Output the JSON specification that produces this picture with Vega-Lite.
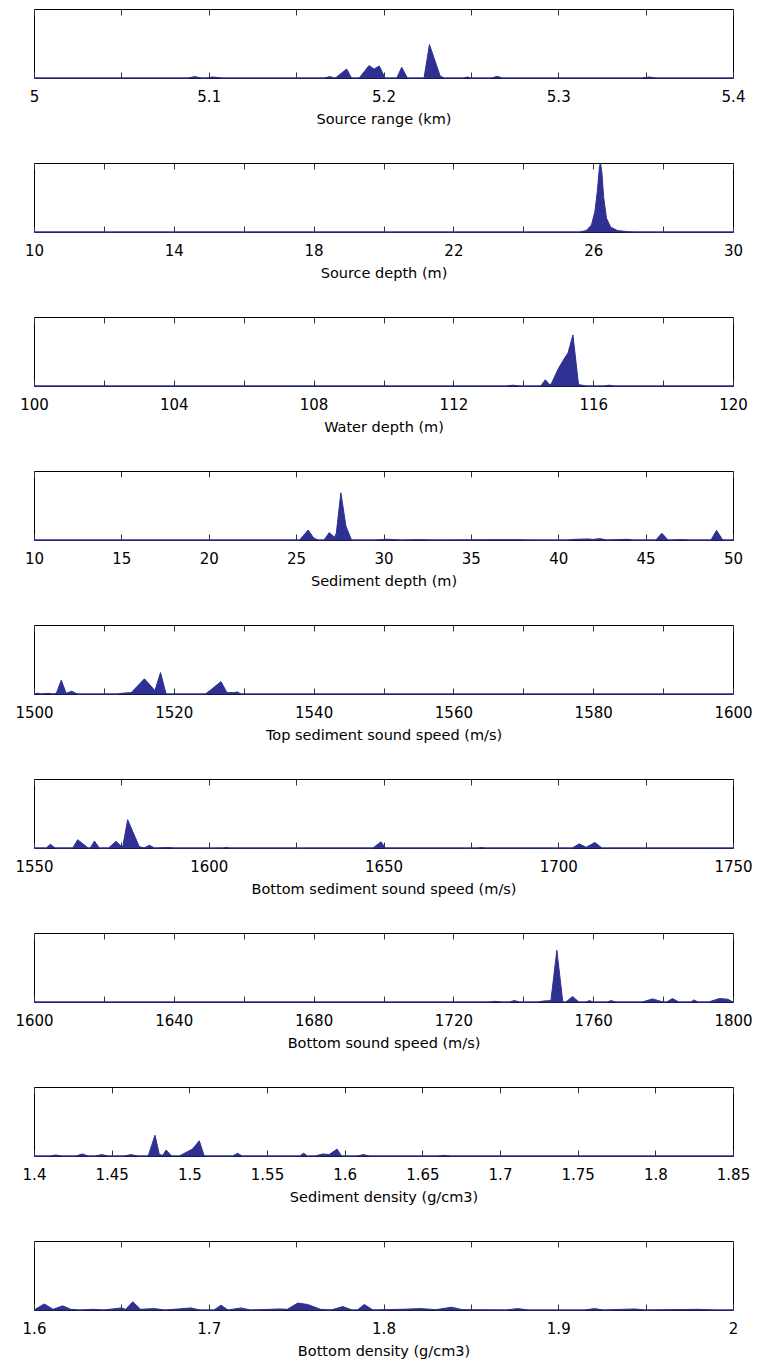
{
  "$schema": "https://vega.github.io/schema/vega-lite/v6.json",
  "padding": {"left": 14, "top": 8, "right": 4, "bottom": 4},
  "background": "white",
  "spacing": 85,
  "bounds": "flush",
  "config": {
    "view": {"stroke": "#000", "strokeWidth": 1},
    "axis": {"domain": false, "grid": false, "tickColor": "#333", "tickSize": -6, "tickWidth": 1,
      "labelFont": "DejaVu Sans", "labelFontSize": 15, "labelColor": "#000", "labelPadding": 17,
      "titleFont": "DejaVu Sans", "titleFontSize": 14.5, "titleFontWeight": "normal", "titleColor": "#000", "titlePadding": 8,
      "labelOverlap": false, "labelFlush": false},
    "area": {"color": "#2e3192", "stroke": "#2e3192", "strokeWidth": 1, "interpolate": "linear"}
  },
  "datasets": {
    "p1": [{"x":5,"y":0},{"x":5.088,"y":0},{"x":5.092,"y":0.02},{"x":5.096,"y":0},{"x":5.099,"y":0},{"x":5.102,"y":0.015},{"x":5.108,"y":0},{"x":5.166,"y":0},{"x":5.1693,"y":0.02},{"x":5.172,"y":0},{"x":5.173,"y":0.01},{"x":5.1789,"y":0.13},{"x":5.1817,"y":0},{"x":5.1861,"y":0},{"x":5.1917,"y":0.18},{"x":5.1946,"y":0.13},{"x":5.1976,"y":0.175},{"x":5.2009,"y":0},{"x":5.2076,"y":0},{"x":5.2104,"y":0.155},{"x":5.2137,"y":0},{"x":5.2232,"y":0},{"x":5.2263,"y":0.485},{"x":5.2324,"y":0.03},{"x":5.2347,"y":0},{"x":5.246,"y":0},{"x":5.248,"y":0.015},{"x":5.25,"y":0},{"x":5.262,"y":0},{"x":5.265,"y":0.025},{"x":5.268,"y":0},{"x":5.348,"y":0},{"x":5.352,"y":0.015},{"x":5.356,"y":0},{"x":5.4,"y":0}],
    "p2": [{"x":10,"y":0},{"x":25.6,"y":0},{"x":25.8,"y":0.02},{"x":25.95,"y":0.1},{"x":26.05,"y":0.3},{"x":26.12,"y":0.6},{"x":26.18,"y":0.95},{"x":26.21,"y":1.0},{"x":26.25,"y":0.85},{"x":26.3,"y":0.5},{"x":26.38,"y":0.2},{"x":26.5,"y":0.07},{"x":26.7,"y":0.02},{"x":27.0,"y":0.005},{"x":27.2,"y":0},{"x":30,"y":0}],
    "p3": [{"x":100,"y":0},{"x":113.5,"y":0},{"x":113.7,"y":0.012},{"x":113.9,"y":0},{"x":114.5,"y":0},{"x":114.63,"y":0.09},{"x":114.75,"y":0.02},{"x":114.8,"y":0.03},{"x":115.0,"y":0.25},{"x":115.2,"y":0.42},{"x":115.28,"y":0.48},{"x":115.42,"y":0.74},{"x":115.58,"y":0.02},{"x":115.7,"y":0.01},{"x":115.8,"y":0},{"x":116.3,"y":0},{"x":116.45,"y":0.012},{"x":116.6,"y":0},{"x":120,"y":0}],
    "p4": [{"x":10,"y":0},{"x":25.2,"y":0},{"x":25.69,"y":0.145},{"x":26.0,"y":0.03},{"x":26.26,"y":0},{"x":26.6,"y":0},{"x":26.89,"y":0.106},{"x":27.2,"y":0.04},{"x":27.3,"y":0.1},{"x":27.56,"y":0.685},{"x":27.85,"y":0.2},{"x":28.17,"y":0},{"x":29.5,"y":0},{"x":30.2,"y":0.012},{"x":31,"y":0},{"x":32,"y":0.005},{"x":33,"y":0},{"x":37.5,"y":0.005},{"x":38.5,"y":0},{"x":40.5,"y":0},{"x":41,"y":0.01},{"x":41.7,"y":0.015},{"x":42,"y":0.008},{"x":42.37,"y":0.02},{"x":42.8,"y":0},{"x":43.95,"y":0.01},{"x":44.3,"y":0},{"x":45.58,"y":0},{"x":45.93,"y":0.097},{"x":46.29,"y":0},{"x":47.1,"y":0.006},{"x":47.5,"y":0},{"x":48.74,"y":0},{"x":49.06,"y":0.14},{"x":49.41,"y":0},{"x":50,"y":0}],
    "p5": [{"x":1500,"y":0},{"x":1500.5,"y":0.012},{"x":1501,"y":0},{"x":1502,"y":0.01},{"x":1502.8,"y":0},{"x":1503.2,"y":0.01},{"x":1503.9,"y":0.2},{"x":1504.6,"y":0.01},{"x":1505.4,"y":0.04},{"x":1506.2,"y":0},{"x":1512,"y":0},{"x":1512.5,"y":0.01},{"x":1513.9,"y":0.02},{"x":1515.8,"y":0.22},{"x":1517.3,"y":0.05},{"x":1518.1,"y":0.31},{"x":1518.9,"y":0},{"x":1524.5,"y":0},{"x":1525.3,"y":0.06},{"x":1526.75,"y":0.18},{"x":1527.6,"y":0.02},{"x":1528.5,"y":0.02},{"x":1529.1,"y":0.03},{"x":1529.6,"y":0},{"x":1600,"y":0}],
    "p6": [{"x":1550,"y":0},{"x":1553.5,"y":0},{"x":1554.7,"y":0.055},{"x":1556,"y":0},{"x":1561.1,"y":0},{"x":1562.5,"y":0.12},{"x":1565.5,"y":0},{"x":1566.1,"y":0},{"x":1567.3,"y":0.1},{"x":1568.7,"y":0},{"x":1571.3,"y":0},{"x":1573.5,"y":0.097},{"x":1575.0,"y":0.02},{"x":1575.4,"y":0.02},{"x":1576.8,"y":0.41},{"x":1580.1,"y":0.02},{"x":1581.5,"y":0},{"x":1583,"y":0.04},{"x":1584.5,"y":0},{"x":1589,"y":0.008},{"x":1590,"y":0},{"x":1604,"y":0},{"x":1605,"y":0.01},{"x":1606,"y":0},{"x":1647,"y":0},{"x":1649.3,"y":0.09},{"x":1650.5,"y":0},{"x":1677,"y":0},{"x":1678,"y":0.01},{"x":1679,"y":0},{"x":1704,"y":0},{"x":1706,"y":0.06},{"x":1708,"y":0.01},{"x":1710.5,"y":0.08},{"x":1712.5,"y":0},{"x":1750,"y":0}],
    "p7": [{"x":1600,"y":0},{"x":1730,"y":0},{"x":1732,"y":0.01},{"x":1734,"y":0},{"x":1736,"y":0},{"x":1737.4,"y":0.02},{"x":1739,"y":0},{"x":1744,"y":0},{"x":1745.9,"y":0.015},{"x":1747.9,"y":0.02},{"x":1749.6,"y":0.75},{"x":1751.3,"y":0},{"x":1752.2,"y":0},{"x":1754.1,"y":0.08},{"x":1755.9,"y":0},{"x":1758,"y":0},{"x":1758.9,"y":0.02},{"x":1760,"y":0},{"x":1764,"y":0},{"x":1765.1,"y":0.02},{"x":1766.5,"y":0},{"x":1774,"y":0},{"x":1777,"y":0.045},{"x":1780,"y":0},{"x":1781,"y":0},{"x":1782.7,"y":0.05},{"x":1784.5,"y":0},{"x":1788,"y":0},{"x":1788.8,"y":0.03},{"x":1790,"y":0},{"x":1793,"y":0},{"x":1796.1,"y":0.05},{"x":1798.5,"y":0.04},{"x":1800,"y":0}],
    "p8": [{"x":1.4,"y":0},{"x":1.41,"y":0},{"x":1.414,"y":0.015},{"x":1.418,"y":0},{"x":1.427,"y":0},{"x":1.431,"y":0.03},{"x":1.435,"y":0},{"x":1.439,"y":0},{"x":1.4436,"y":0.02},{"x":1.448,"y":0},{"x":1.458,"y":0},{"x":1.4624,"y":0.02},{"x":1.467,"y":0},{"x":1.4735,"y":0},{"x":1.4779,"y":0.3},{"x":1.4807,"y":0.02},{"x":1.483,"y":0.01},{"x":1.485,"y":0.087},{"x":1.4886,"y":0},{"x":1.4935,"y":0},{"x":1.502,"y":0.1},{"x":1.5064,"y":0.22},{"x":1.5096,"y":0},{"x":1.528,"y":0},{"x":1.5311,"y":0.04},{"x":1.534,"y":0},{"x":1.571,"y":0},{"x":1.5736,"y":0.04},{"x":1.576,"y":0},{"x":1.581,"y":0},{"x":1.5859,"y":0.03},{"x":1.59,"y":0.02},{"x":1.5951,"y":0.1},{"x":1.598,"y":0},{"x":1.608,"y":0},{"x":1.612,"y":0.02},{"x":1.616,"y":0},{"x":1.66,"y":0},{"x":1.664,"y":0.01},{"x":1.668,"y":0},{"x":1.85,"y":0}],
    "p9": [{"x":1.6,"y":0},{"x":1.6059,"y":0.087},{"x":1.611,"y":0.01},{"x":1.6164,"y":0.06},{"x":1.621,"y":0.01},{"x":1.626,"y":0},{"x":1.634,"y":0.01},{"x":1.64,"y":0},{"x":1.6498,"y":0.03},{"x":1.6525,"y":0.01},{"x":1.6565,"y":0.12},{"x":1.661,"y":0.01},{"x":1.6689,"y":0.02},{"x":1.675,"y":0},{"x":1.6898,"y":0.03},{"x":1.695,"y":0},{"x":1.703,"y":0},{"x":1.707,"y":0.07},{"x":1.711,"y":0},{"x":1.7185,"y":0.03},{"x":1.724,"y":0},{"x":1.7402,"y":0.015},{"x":1.745,"y":0.01},{"x":1.7509,"y":0.1},{"x":1.7566,"y":0.08},{"x":1.764,"y":0.01},{"x":1.77,"y":0},{"x":1.7767,"y":0.05},{"x":1.782,"y":0},{"x":1.785,"y":0},{"x":1.789,"y":0.08},{"x":1.794,"y":0},{"x":1.81,"y":0.01},{"x":1.8215,"y":0.02},{"x":1.83,"y":0.005},{"x":1.839,"y":0.04},{"x":1.845,"y":0.005},{"x":1.87,"y":0},{"x":1.8768,"y":0.02},{"x":1.883,"y":0},{"x":1.915,"y":0},{"x":1.9207,"y":0.02},{"x":1.926,"y":0},{"x":1.9435,"y":0.015},{"x":1.95,"y":0},{"x":1.98,"y":0.01},{"x":1.99,"y":0},{"x":2,"y":0}]
  },
  "vconcat": [
    {"width": 699, "height": 69, "data": {"name": "p1"},
     "layer": [
      {"mark": "area", "encoding": {"x": {"field": "x", "type": "quantitative", "scale": {"domain": [5, 5.4], "nice": false, "zero": false}, "axis": {"orient": "bottom", "title": "Source range (km)", "values": [5,5.05,5.1,5.15,5.2,5.25,5.3,5.35,5.4], "labelExpr": "round(datum.value*100) % 10 == 0 ? format(datum.value, '~g') : ''"}}, "y": {"field": "y", "type": "quantitative", "scale": {"domain": [0, 1]}, "axis": null}}},
      {"mark": {"type": "rule", "opacity": 0}, "encoding": {"x": {"field": "x", "type": "quantitative", "axis": {"orient": "top", "labels": false, "title": null, "values": [5,5.05,5.1,5.15,5.2,5.25,5.3,5.35,5.4]}}}}
     ], "resolve": {"axis": {"x": "independent"}}},
    {"width": 699, "height": 69, "data": {"name": "p2"},
     "layer": [
      {"mark": "area", "encoding": {"x": {"field": "x", "type": "quantitative", "scale": {"domain": [10, 30], "nice": false, "zero": false}, "axis": {"orient": "bottom", "title": "Source depth (m)", "values": [10,12,14,16,18,20,22,24,26,28,30], "labelExpr": "datum.value % 4 == 2 ? format(datum.value, '~g') : ''"}}, "y": {"field": "y", "type": "quantitative", "scale": {"domain": [0, 1]}, "axis": null}}},
      {"mark": {"type": "rule", "opacity": 0}, "encoding": {"x": {"field": "x", "type": "quantitative", "axis": {"orient": "top", "labels": false, "title": null, "values": [10,12,14,16,18,20,22,24,26,28,30]}}}}
     ], "resolve": {"axis": {"x": "independent"}}},
    {"width": 699, "height": 69, "data": {"name": "p3"},
     "layer": [
      {"mark": "area", "encoding": {"x": {"field": "x", "type": "quantitative", "scale": {"domain": [100, 120], "nice": false, "zero": false}, "axis": {"orient": "bottom", "title": "Water depth (m)", "values": [100,102,104,106,108,110,112,114,116,118,120], "labelExpr": "datum.value % 4 == 0 ? format(datum.value, '~g') : ''"}}, "y": {"field": "y", "type": "quantitative", "scale": {"domain": [0, 1]}, "axis": null}}},
      {"mark": {"type": "rule", "opacity": 0}, "encoding": {"x": {"field": "x", "type": "quantitative", "axis": {"orient": "top", "labels": false, "title": null, "values": [100,102,104,106,108,110,112,114,116,118,120]}}}}
     ], "resolve": {"axis": {"x": "independent"}}},
    {"width": 699, "height": 69, "data": {"name": "p4"},
     "layer": [
      {"mark": "area", "encoding": {"x": {"field": "x", "type": "quantitative", "scale": {"domain": [10, 50], "nice": false, "zero": false}, "axis": {"orient": "bottom", "title": "Sediment depth (m)", "values": [10,15,20,25,30,35,40,45,50], "labelExpr": "format(datum.value, '~g')"}}, "y": {"field": "y", "type": "quantitative", "scale": {"domain": [0, 1]}, "axis": null}}},
      {"mark": {"type": "rule", "opacity": 0}, "encoding": {"x": {"field": "x", "type": "quantitative", "axis": {"orient": "top", "labels": false, "title": null, "values": [10,15,20,25,30,35,40,45,50]}}}}
     ], "resolve": {"axis": {"x": "independent"}}},
    {"width": 699, "height": 69, "data": {"name": "p5"},
     "layer": [
      {"mark": "area", "encoding": {"x": {"field": "x", "type": "quantitative", "scale": {"domain": [1500, 1600], "nice": false, "zero": false}, "axis": {"orient": "bottom", "title": "Top sediment sound speed (m/s)", "values": [1500,1510,1520,1530,1540,1550,1560,1570,1580,1590,1600], "labelExpr": "datum.value % 20 == 0 ? format(datum.value, 'd') : ''"}}, "y": {"field": "y", "type": "quantitative", "scale": {"domain": [0, 1]}, "axis": null}}},
      {"mark": {"type": "rule", "opacity": 0}, "encoding": {"x": {"field": "x", "type": "quantitative", "axis": {"orient": "top", "labels": false, "title": null, "values": [1500,1510,1520,1530,1540,1550,1560,1570,1580,1590,1600]}}}}
     ], "resolve": {"axis": {"x": "independent"}}},
    {"width": 699, "height": 69, "data": {"name": "p6"},
     "layer": [
      {"mark": "area", "encoding": {"x": {"field": "x", "type": "quantitative", "scale": {"domain": [1550, 1750], "nice": false, "zero": false}, "axis": {"orient": "bottom", "title": "Bottom sediment sound speed (m/s)", "values": [1550,1575,1600,1625,1650,1675,1700,1725,1750], "labelExpr": "datum.value % 50 == 0 ? format(datum.value, 'd') : ''"}}, "y": {"field": "y", "type": "quantitative", "scale": {"domain": [0, 1]}, "axis": null}}},
      {"mark": {"type": "rule", "opacity": 0}, "encoding": {"x": {"field": "x", "type": "quantitative", "axis": {"orient": "top", "labels": false, "title": null, "values": [1550,1575,1600,1625,1650,1675,1700,1725,1750]}}}}
     ], "resolve": {"axis": {"x": "independent"}}},
    {"width": 699, "height": 69, "data": {"name": "p7"},
     "layer": [
      {"mark": "area", "encoding": {"x": {"field": "x", "type": "quantitative", "scale": {"domain": [1600, 1800], "nice": false, "zero": false}, "axis": {"orient": "bottom", "title": "Bottom sound speed (m/s)", "values": [1600,1620,1640,1660,1680,1700,1720,1740,1760,1780,1800], "labelExpr": "datum.value % 40 == 0 ? format(datum.value, 'd') : ''"}}, "y": {"field": "y", "type": "quantitative", "scale": {"domain": [0, 1]}, "axis": null}}},
      {"mark": {"type": "rule", "opacity": 0}, "encoding": {"x": {"field": "x", "type": "quantitative", "axis": {"orient": "top", "labels": false, "title": null, "values": [1600,1620,1640,1660,1680,1700,1720,1740,1760,1780,1800]}}}}
     ], "resolve": {"axis": {"x": "independent"}}},
    {"width": 699, "height": 69, "data": {"name": "p8"},
     "layer": [
      {"mark": "area", "encoding": {"x": {"field": "x", "type": "quantitative", "scale": {"domain": [1.4, 1.85], "nice": false, "zero": false}, "axis": {"orient": "bottom", "title": "Sediment density (g/cm3)", "values": [1.4,1.45,1.5,1.55,1.6,1.65,1.7,1.75,1.8,1.85], "labelExpr": "format(datum.value, '~g')"}}, "y": {"field": "y", "type": "quantitative", "scale": {"domain": [0, 1]}, "axis": null}}},
      {"mark": {"type": "rule", "opacity": 0}, "encoding": {"x": {"field": "x", "type": "quantitative", "axis": {"orient": "top", "labels": false, "title": null, "values": [1.4,1.45,1.5,1.55,1.6,1.65,1.7,1.75,1.8,1.85]}}}}
     ], "resolve": {"axis": {"x": "independent"}}},
    {"width": 699, "height": 69, "data": {"name": "p9"},
     "layer": [
      {"mark": "area", "encoding": {"x": {"field": "x", "type": "quantitative", "scale": {"domain": [1.6, 2], "nice": false, "zero": false}, "axis": {"orient": "bottom", "title": "Bottom density (g/cm3)", "values": [1.6,1.65,1.7,1.75,1.8,1.85,1.9,1.95,2], "labelExpr": "round(datum.value*100) % 10 == 0 ? format(datum.value, '~g') : ''"}}, "y": {"field": "y", "type": "quantitative", "scale": {"domain": [0, 1]}, "axis": null}}},
      {"mark": {"type": "rule", "opacity": 0}, "encoding": {"x": {"field": "x", "type": "quantitative", "axis": {"orient": "top", "labels": false, "title": null, "values": [1.6,1.65,1.7,1.75,1.8,1.85,1.9,1.95,2]}}}}
     ], "resolve": {"axis": {"x": "independent"}}}
  ]
}
